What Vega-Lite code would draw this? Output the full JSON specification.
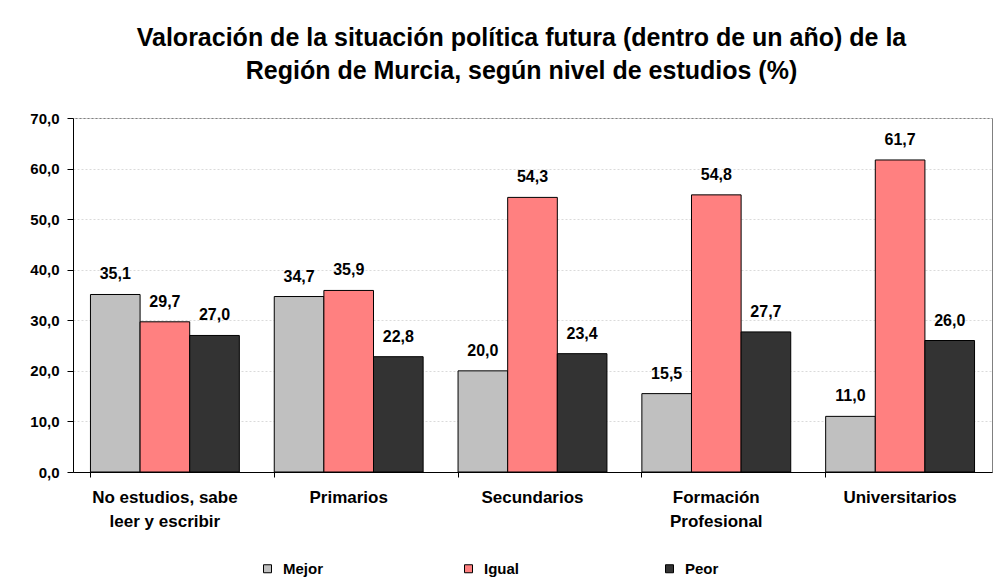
{
  "$schema": "https://vega.github.io/schema/vega-lite/v6.json",
  "width": 919,
  "height": 354,
  "autosize": {"type": "none"},
  "padding": {"left": 73, "top": 118, "right": 1, "bottom": 115},
  "background": "white",
  "title": {
    "text": ["Valoración de la situación política futura (dentro de un año) de la", "Región de Murcia, según nivel de estudios (%)"],
    "fontSize": 25,
    "fontWeight": "bold",
    "color": "black",
    "lineHeight": 33,
    "anchor": "middle",
    "dx": -11,
    "offset": 27
  },
  "data": {
    "values": [
      {"nivel": "No estudios, sabe leer y escribir", "valoracion": "Mejor", "valor": 35.1},
      {"nivel": "No estudios, sabe leer y escribir", "valoracion": "Igual", "valor": 29.7},
      {"nivel": "No estudios, sabe leer y escribir", "valoracion": "Peor", "valor": 27.0},
      {"nivel": "Primarios", "valoracion": "Mejor", "valor": 34.7},
      {"nivel": "Primarios", "valoracion": "Igual", "valor": 35.9},
      {"nivel": "Primarios", "valoracion": "Peor", "valor": 22.8},
      {"nivel": "Secundarios", "valoracion": "Mejor", "valor": 20.0},
      {"nivel": "Secundarios", "valoracion": "Igual", "valor": 54.3},
      {"nivel": "Secundarios", "valoracion": "Peor", "valor": 23.4},
      {"nivel": "Formación Profesional", "valoracion": "Mejor", "valor": 15.5},
      {"nivel": "Formación Profesional", "valoracion": "Igual", "valor": 54.8},
      {"nivel": "Formación Profesional", "valoracion": "Peor", "valor": 27.7},
      {"nivel": "Universitarios", "valoracion": "Mejor", "valor": 11.0},
      {"nivel": "Universitarios", "valoracion": "Igual", "valor": 61.7},
      {"nivel": "Universitarios", "valoracion": "Peor", "valor": 26.0}
    ]
  },
  "encoding": {
    "x": {
      "field": "nivel",
      "type": "nominal",
      "sort": null,
      "scale": {"paddingInner": 0.19, "paddingOuter": 0.095},
      "axis": {
        "title": null,
        "labelAngle": 0,
        "bandPosition": 0,
        "labelFontSize": 17,
        "labelFontWeight": "bold",
        "labelColor": "black",
        "labelPadding": 12,
        "labelBaseline": "top",
        "labelLineHeight": 24,
        "labelLimit": 300,
        "tickSize": 5,
        "tickColor": "black",
        "domainColor": "black",
        "grid": false,
        "labelExpr": "datum.value == 'No estudios, sabe leer y escribir' ? ['No estudios, sabe', 'leer y escribir'] : datum.value == 'Formación Profesional' ? ['Formación', 'Profesional'] : datum.value"
      }
    },
    "xOffset": {"field": "valoracion", "type": "nominal", "sort": ["Mejor", "Igual", "Peor"]},
    "y": {
      "field": "valor",
      "type": "quantitative",
      "scale": {"domain": [0, 70], "nice": false},
      "axis": {
        "title": null,
        "values": [0, 10, 20, 30, 40, 50, 60, 70],
        "format": ".1f",
        "labelFontSize": 15,
        "labelFontWeight": "bold",
        "labelColor": "black",
        "labelPadding": 8,
        "tickSize": 6,
        "tickColor": "black",
        "domainColor": "black",
        "grid": true,
        "gridColor": "#dadada",
        "gridDash": [2, 2],
        "gridWidth": 1
      }
    }
  },
  "layer": [
    {
      "mark": {"type": "bar", "stroke": "black", "strokeWidth": 1},
      "encoding": {
        "color": {
          "field": "valoracion",
          "type": "nominal",
          "sort": ["Mejor", "Igual", "Peor"],
          "scale": {"domain": ["Mejor", "Igual", "Peor"], "range": ["#C0C0C0", "#FF8080", "#333333"]},
          "legend": {
            "title": null,
            "orient": "none",
            "legendX": 187,
            "legendY": 443,
            "direction": "horizontal",
            "columns": 3,
            "gridAlign": "all",
            "columnPadding": 137,
            "padding": 0,
            "symbolType": "square",
            "symbolSize": 64,
            "symbolStrokeColor": "black",
            "symbolStrokeWidth": 1,
            "labelFontSize": 15,
            "labelFontWeight": "bold",
            "labelColor": "black",
            "labelOffset": 8
          }
        }
      }
    },
    {
      "mark": {"type": "text", "fontSize": 16, "fontWeight": "bold", "color": "black", "baseline": "alphabetic", "align": "center", "dy": -15},
      "encoding": {
        "text": {"field": "valor", "type": "quantitative", "format": ".1f"}
      }
    }
  ],
  "config": {
    "font": "Liberation Sans",
    "view": {"stroke": "#808080", "strokeWidth": 1},
    "locale": {"number": {"decimal": ",", "thousands": ".", "grouping": [3], "currency": ["", " €"]}}
  }
}
